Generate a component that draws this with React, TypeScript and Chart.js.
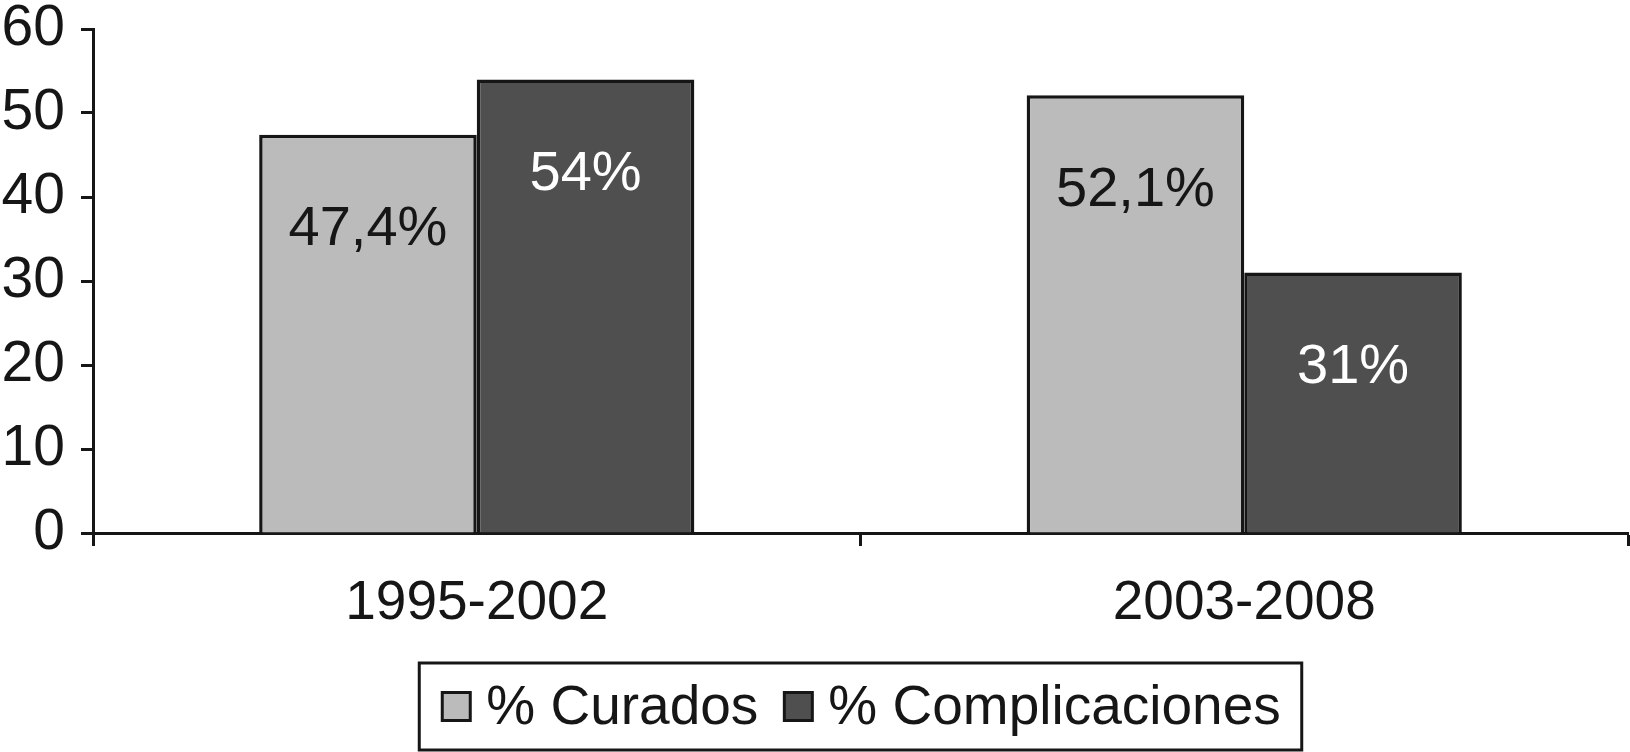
import React, { useEffect, useRef } from "react";
import { Chart, registerables } from "chart.js";

Chart.register(...registerables);

const categories = ["1995-2002", "2003-2008"];
const seriesNames = ["% Curados", "% Complicaciones"];
const curados = [47.4, 52.1];
const complicaciones = [54, 31];
const yTicks = [0, 10, 20, 30, 40, 50, 60];

const FONT = '"Liberation Sans", Arial, sans-serif';
const INK = "#161616";
const LIGHT = "#bbbbbb";
const DARK = "#4f4f4f";

const dataLabels = {
  id: "dataLabels",
  afterDatasetsDraw(chart: any) {
    const ctx = chart.ctx;
    ctx.save();
    ctx.font = `56px ${FONT}`;
    ctx.textAlign = "center";
    ctx.textBaseline = "middle";
    chart.data.datasets.forEach((ds: any, di: number) => {
      const meta = chart.getDatasetMeta(di);
      ctx.fillStyle = di === 0 ? INK : "#ffffff";
      meta.data.forEach((el: any, i: number) => {
        const v = ds.data[i];
        const txt = String(v).replace(".", ",") + "%";
        ctx.fillText(txt, el.x, el.y + 95);
      });
    });
    ctx.restore();
  },
};

const boxedLegend = {
  id: "boxedLegend",
  afterDraw(chart: any) {
    const ctx = chart.ctx;
    const area = chart.chartArea;
    ctx.save();
    ctx.font = `55px ${FONT}`;
    ctx.textBaseline = "middle";
    ctx.textAlign = "left";
    const sw = 28;
    const gapBT = 16;
    const gapItems = 26;
    const padL = 23;
    const padR = 21;
    const widths = chart.data.datasets.map((d: any) => ctx.measureText(d.label).width);
    const content = widths.reduce((a: number, w: number) => a + sw + gapBT + w, 0) + gapItems * (widths.length - 1);
    const total = padL + content + padR;
    const cx = (area.left + area.right) / 2;
    const left = cx - total / 2;
    const top = 663;
    const h = 87;
    const cy = top + h / 2;
    ctx.lineWidth = 3;
    ctx.strokeStyle = INK;
    ctx.strokeRect(left, top, total, h);
    let x = left + padL;
    chart.data.datasets.forEach((d: any, i: number) => {
      ctx.fillStyle = d.backgroundColor;
      ctx.fillRect(x, cy - 14, sw, sw);
      ctx.lineWidth = 3;
      ctx.strokeStyle = INK;
      ctx.strokeRect(x, cy - 14, sw, sw);
      ctx.fillStyle = INK;
      ctx.fillText(d.label, x + sw + gapBT, cy + 2);
      x += sw + gapBT + widths[i] + gapItems;
    });
    ctx.restore();
  },
};

export default function App() {
  const ref = useRef<HTMLCanvasElement | null>(null);

  useEffect(() => {
    document.body.style.margin = "0";
    if (!ref.current) return;
    const chart = new Chart(ref.current, {
      type: "bar",
      data: {
        labels: categories,
        datasets: [
          {
            label: seriesNames[0],
            data: curados,
            backgroundColor: LIGHT,
            borderColor: INK,
            borderWidth: 3.5,
            borderSkipped: "bottom",
          },
          {
            label: seriesNames[1],
            data: complicaciones,
            backgroundColor: DARK,
            borderColor: INK,
            borderWidth: 3.5,
            borderSkipped: "bottom",
          },
        ],
      },
      options: {
        responsive: false,
        animation: false,
        devicePixelRatio: 1,
        layout: { padding: { top: 29, right: 2, left: 0, bottom: 0 } },
        datasets: { bar: { categoryPercentage: 0.567, barPercentage: 1.0 } },
        plugins: {
          legend: { display: false },
          tooltip: { enabled: false },
          title: { display: false },
        },
        scales: {
          x: {
            afterFit(scale: any) {
              scale.height = 752 - 533;
              scale.paddingLeft = 0;
              scale.paddingRight = 0;
            },
            grid: {
              display: true,
              drawOnChartArea: false,
              drawTicks: true,
              tickLength: 13,
              tickWidth: 3,
              tickColor: INK,
              offset: true,
            },
            border: { display: true, color: INK, width: 3 },
            ticks: {
              color: INK,
              font: { family: FONT, size: 55, lineHeight: 1 },
              padding: 30,
              maxRotation: 0,
            },
          },
          y: {
            min: 0,
            max: 60,
            afterFit(scale: any) {
              scale.width = 93;
              scale.paddingTop = 0;
              scale.paddingBottom = 0;
            },
            afterBuildTicks(scale: any) {
              scale.ticks = yTicks.map((v) => ({ value: v }));
            },
            grid: {
              display: true,
              drawOnChartArea: false,
              drawTicks: true,
              tickLength: 12,
              tickWidth: 3,
              tickColor: INK,
            },
            border: { display: true, color: INK, width: 3 },
            ticks: {
              color: INK,
              font: { family: FONT, size: 57, lineHeight: 1 },
              padding: 16,
            },
          },
        },
      },
      plugins: [dataLabels, boxedLegend],
    });
    return () => chart.destroy();
  }, []);

  return (
    <div style={{ width: 1630, height: 752, background: "#ffffff" }}>
      <canvas ref={ref} width={1630} height={752} style={{ display: "block" }} />
    </div>
  );
}
